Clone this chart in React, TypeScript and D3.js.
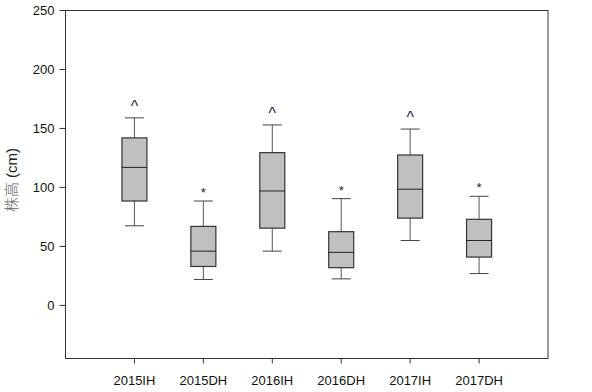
import * as d3 from "d3";

const categories = ["2015IH", "2015DH", "2016IH", "2016DH", "2017IH", "2017DH"];
const whiskerLow = [67.5, 22, 46, 22.5, 55, 27];
const q1 = [88.5, 33, 65.5, 32, 74, 41];
const medians = [117, 46, 97, 45, 98.5, 55];
const q3 = [142, 67, 129.5, 62.5, 127.5, 73];
const whiskerHigh = [159, 88.5, 153, 90.5, 149.5, 92.5];
const markers = ["^", "*", "^", "*", "^", "*"];
const yTicks = [0, 50, 100, 150, 200, 250];

export default function App() {
  const width = 592;
  const height = 392;
  const margin = { top: 10.5, right: 44, bottom: 33.5, left: 65.5 };
  const bottomY = height - margin.bottom;
  const rightX = width - margin.right;

  // x -> category centers, one step of padding at each end
  const xScale = d3
    .scalePoint<string>()
    .domain(categories)
    .range([margin.left, rightX])
    .padding(1);

  // y -> plant height in cm
  const yScale = d3.scaleLinear().domain([-45, 250]).range([bottomY, margin.top]);

  const boxW = 25;
  const capW = 19;

  return (
    <svg
      width={width}
      height={height}
      style={{ position: "absolute", left: 0, top: 0, background: "#fff" }}
    >
      {/* frame */}
      <rect
        x={margin.left}
        y={margin.top}
        width={rightX - margin.left}
        height={bottomY - margin.top}
        fill="none"
        stroke="#333"
        strokeWidth={1}
      />

      {/* y ticks */}
      {yTicks.map((t) => (
        <g key={t}>
          <line
            x1={margin.left - 6}
            x2={margin.left}
            y1={yScale(t)}
            y2={yScale(t)}
            stroke="#333"
          />
          <text
            x={margin.left - 11}
            y={yScale(t)}
            textAnchor="end"
            dominantBaseline="central"
            fontSize="13"
            fontFamily="Liberation Sans, Arial"
            fill="#111"
          >
            {t}
          </text>
        </g>
      ))}

      {/* y label */}
      <text
        transform={`translate(17, 180) rotate(-90)`}
        textAnchor="middle"
        fontSize="15"
        fontFamily="Liberation Sans, Arial"
        fill="#222"
      >
        <tspan fontFamily="Noto Sans CJK SC" fontWeight="300" fill="#666">
          株高
        </tspan>
        <tspan> (cm)</tspan>
      </text>

      {/* x ticks */}
      {categories.map((c) => (
        <g key={c}>
          <line
            x1={xScale(c)!}
            x2={xScale(c)!}
            y1={bottomY}
            y2={bottomY + 5}
            stroke="#333"
          />
          <text
            x={xScale(c)!}
            y={bottomY + 26}
            textAnchor="middle"
            fontSize="13"
            fontFamily="Liberation Sans, Arial"
            fill="#111"
          >
            {c}
          </text>
        </g>
      ))}

      {/* boxes */}
      {categories.map((c, i) => {
        const cx = xScale(c)!;
        const caret = markers[i] === "^";
        return (
          <g key={c}>
            <line x1={cx} x2={cx} y1={yScale(whiskerHigh[i])} y2={yScale(q3[i])} stroke="#555" />
            <line x1={cx} x2={cx} y1={yScale(q1[i])} y2={yScale(whiskerLow[i])} stroke="#555" />
            <line
              x1={cx - capW / 2}
              x2={cx + capW / 2}
              y1={yScale(whiskerHigh[i])}
              y2={yScale(whiskerHigh[i])}
              stroke="#444"
            />
            <line
              x1={cx - capW / 2}
              x2={cx + capW / 2}
              y1={yScale(whiskerLow[i])}
              y2={yScale(whiskerLow[i])}
              stroke="#444"
            />
            <rect
              x={cx - boxW / 2}
              y={yScale(q3[i])}
              width={boxW}
              height={yScale(q1[i]) - yScale(q3[i])}
              fill="#c0c0c0"
              stroke="#333"
              strokeWidth={1.2}
            />
            <line
              x1={cx - boxW / 2}
              x2={cx + boxW / 2}
              y1={yScale(medians[i])}
              y2={yScale(medians[i])}
              stroke="#222"
            />
            <text
              x={cx}
              y={yScale(whiskerHigh[i]) + (caret ? -6 : -4)}
              textAnchor="middle"
              fontSize={caret ? "16" : "13"}
              fontFamily="Liberation Sans, Arial"
              fill={caret ? "#1a2540" : "#222"}
            >
              {markers[i]}
            </text>
          </g>
        );
      })}
    </svg>
  );
}
